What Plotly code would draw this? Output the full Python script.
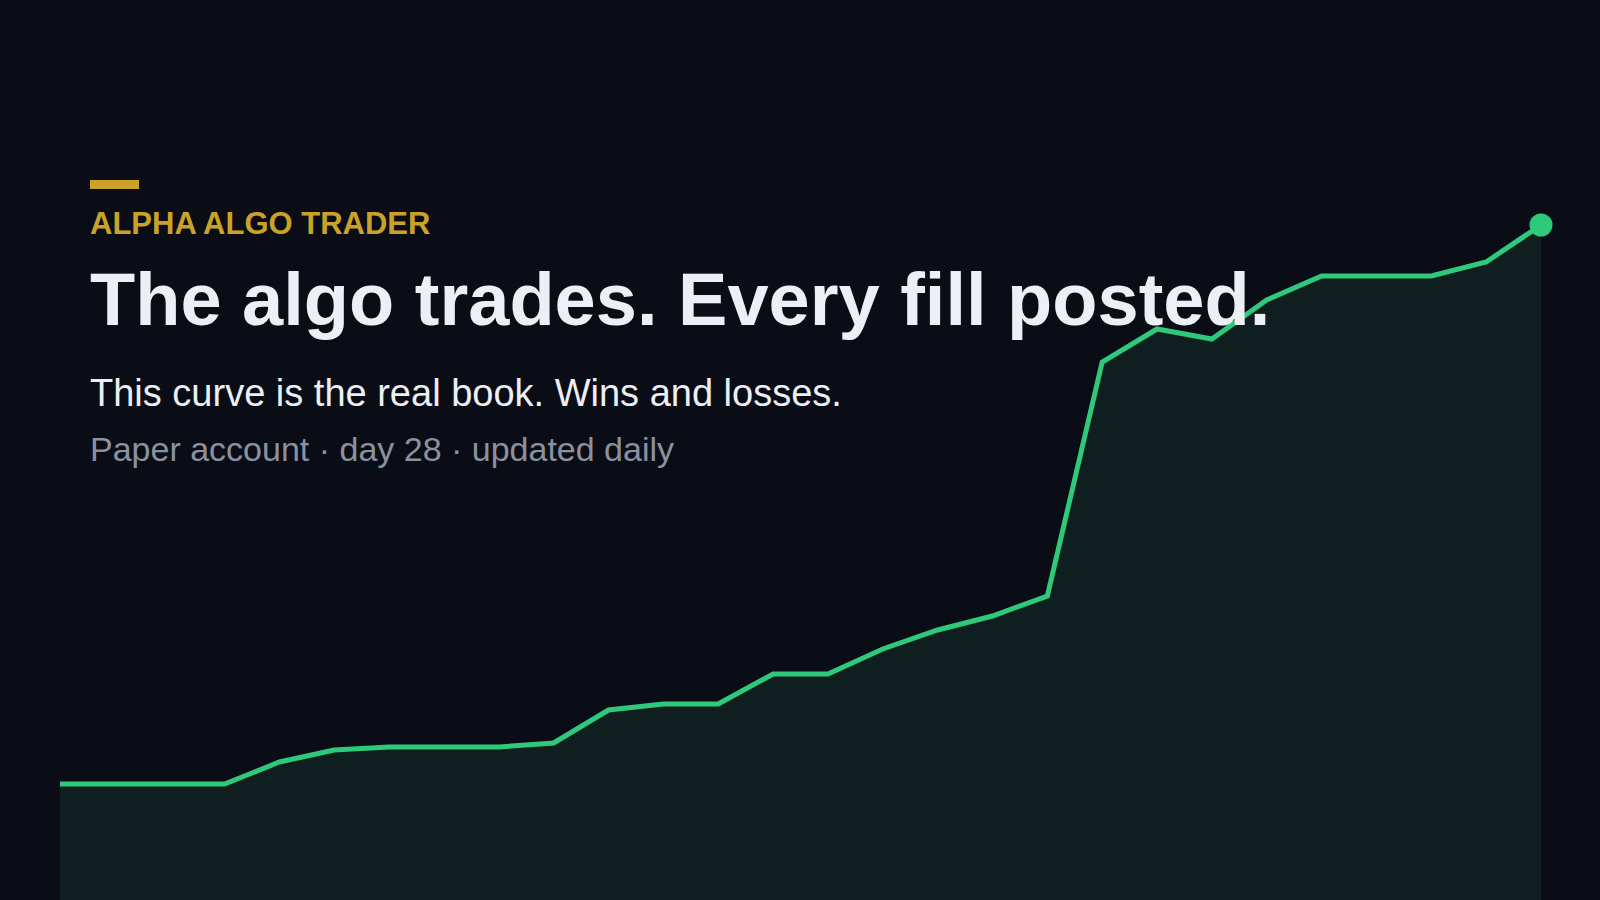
import plotly.graph_objects as go

# ---- data ----
days = list(range(1, 29))
equity = [10000, 10000, 10000, 10000, 10110, 10170, 10185, 10185, 10185, 10205,
          10370, 10400, 10400, 10550, 10550, 10675, 10770, 10840, 10940, 12110,
          12275, 12225, 12420, 12540, 12540, 12540, 12610, 12795]

kicker = "ALPHA ALGO TRADER"
headline = "The algo trades. Every fill posted."
subhead = "This curve is the real book. Wins and losses."
meta = "Paper account · day 28 · updated daily"

# ---- style ----
W, H = 1600, 900
BG = "#0a0d15"
LINE = "#2fc97b"
FILL = "#0f1f20"
GOLD = "#c9a227"
WHITE = "#eceff4"
GRAY = "#8a92a0"
FONT = "Liberation Sans, Arial, sans-serif"

fig = go.Figure()
fig.add_trace(go.Scatter(
    x=days, y=equity, mode="lines",
    line=dict(color=LINE, width=5),
    fill="tozeroy", fillcolor=FILL,
    hoverinfo="skip", showlegend=False,
))
fig.add_trace(go.Scatter(
    x=[days[-1]], y=[equity[-1]], mode="markers",
    marker=dict(color=LINE, size=23),
    cliponaxis=False, hoverinfo="skip", showlegend=False,
))

def py(px):
    return 1 - px / H

TX = 87.5 / W
annotations = [
    dict(text=kicker, x=TX, y=py(223.5), font=dict(size=31, color=GOLD, family=FONT, weight="bold")),
    dict(text=headline, x=TX, y=py(299), font=dict(size=74, color=WHITE, family=FONT, weight="bold")),
    dict(text=subhead, x=TX, y=py(393.5), font=dict(size=38, color=WHITE, family=FONT)),
    dict(text=meta, x=TX, y=py(449), font=dict(size=34, color=GRAY, family=FONT)),
]
for a in annotations:
    a.update(xref="paper", yref="paper", xanchor="left", yanchor="middle", showarrow=False)

fig.update_layout(
    width=W, height=H, autosize=False,
    paper_bgcolor=BG, plot_bgcolor=BG,
    margin=dict(l=0, r=0, t=0, b=0),
    xaxis=dict(domain=[60 / W, 1541 / W], range=[1, 28], visible=False, fixedrange=True),
    yaxis=dict(domain=[0, 1], range=[9420, 13920], visible=False, fixedrange=True),
    annotations=annotations,
    shapes=[dict(type="rect", xref="paper", yref="paper",
                 x0=90 / W, x1=139 / W, y0=py(189), y1=py(180),
                 fillcolor=GOLD, line=dict(width=0), layer="above")],
    font=dict(family=FONT),
)

fig.write_html("out.html", config={"displayModeBar": False, "staticPlot": True},
               post_script="document.body.style.margin='0';document.body.style.overflow='hidden';")
